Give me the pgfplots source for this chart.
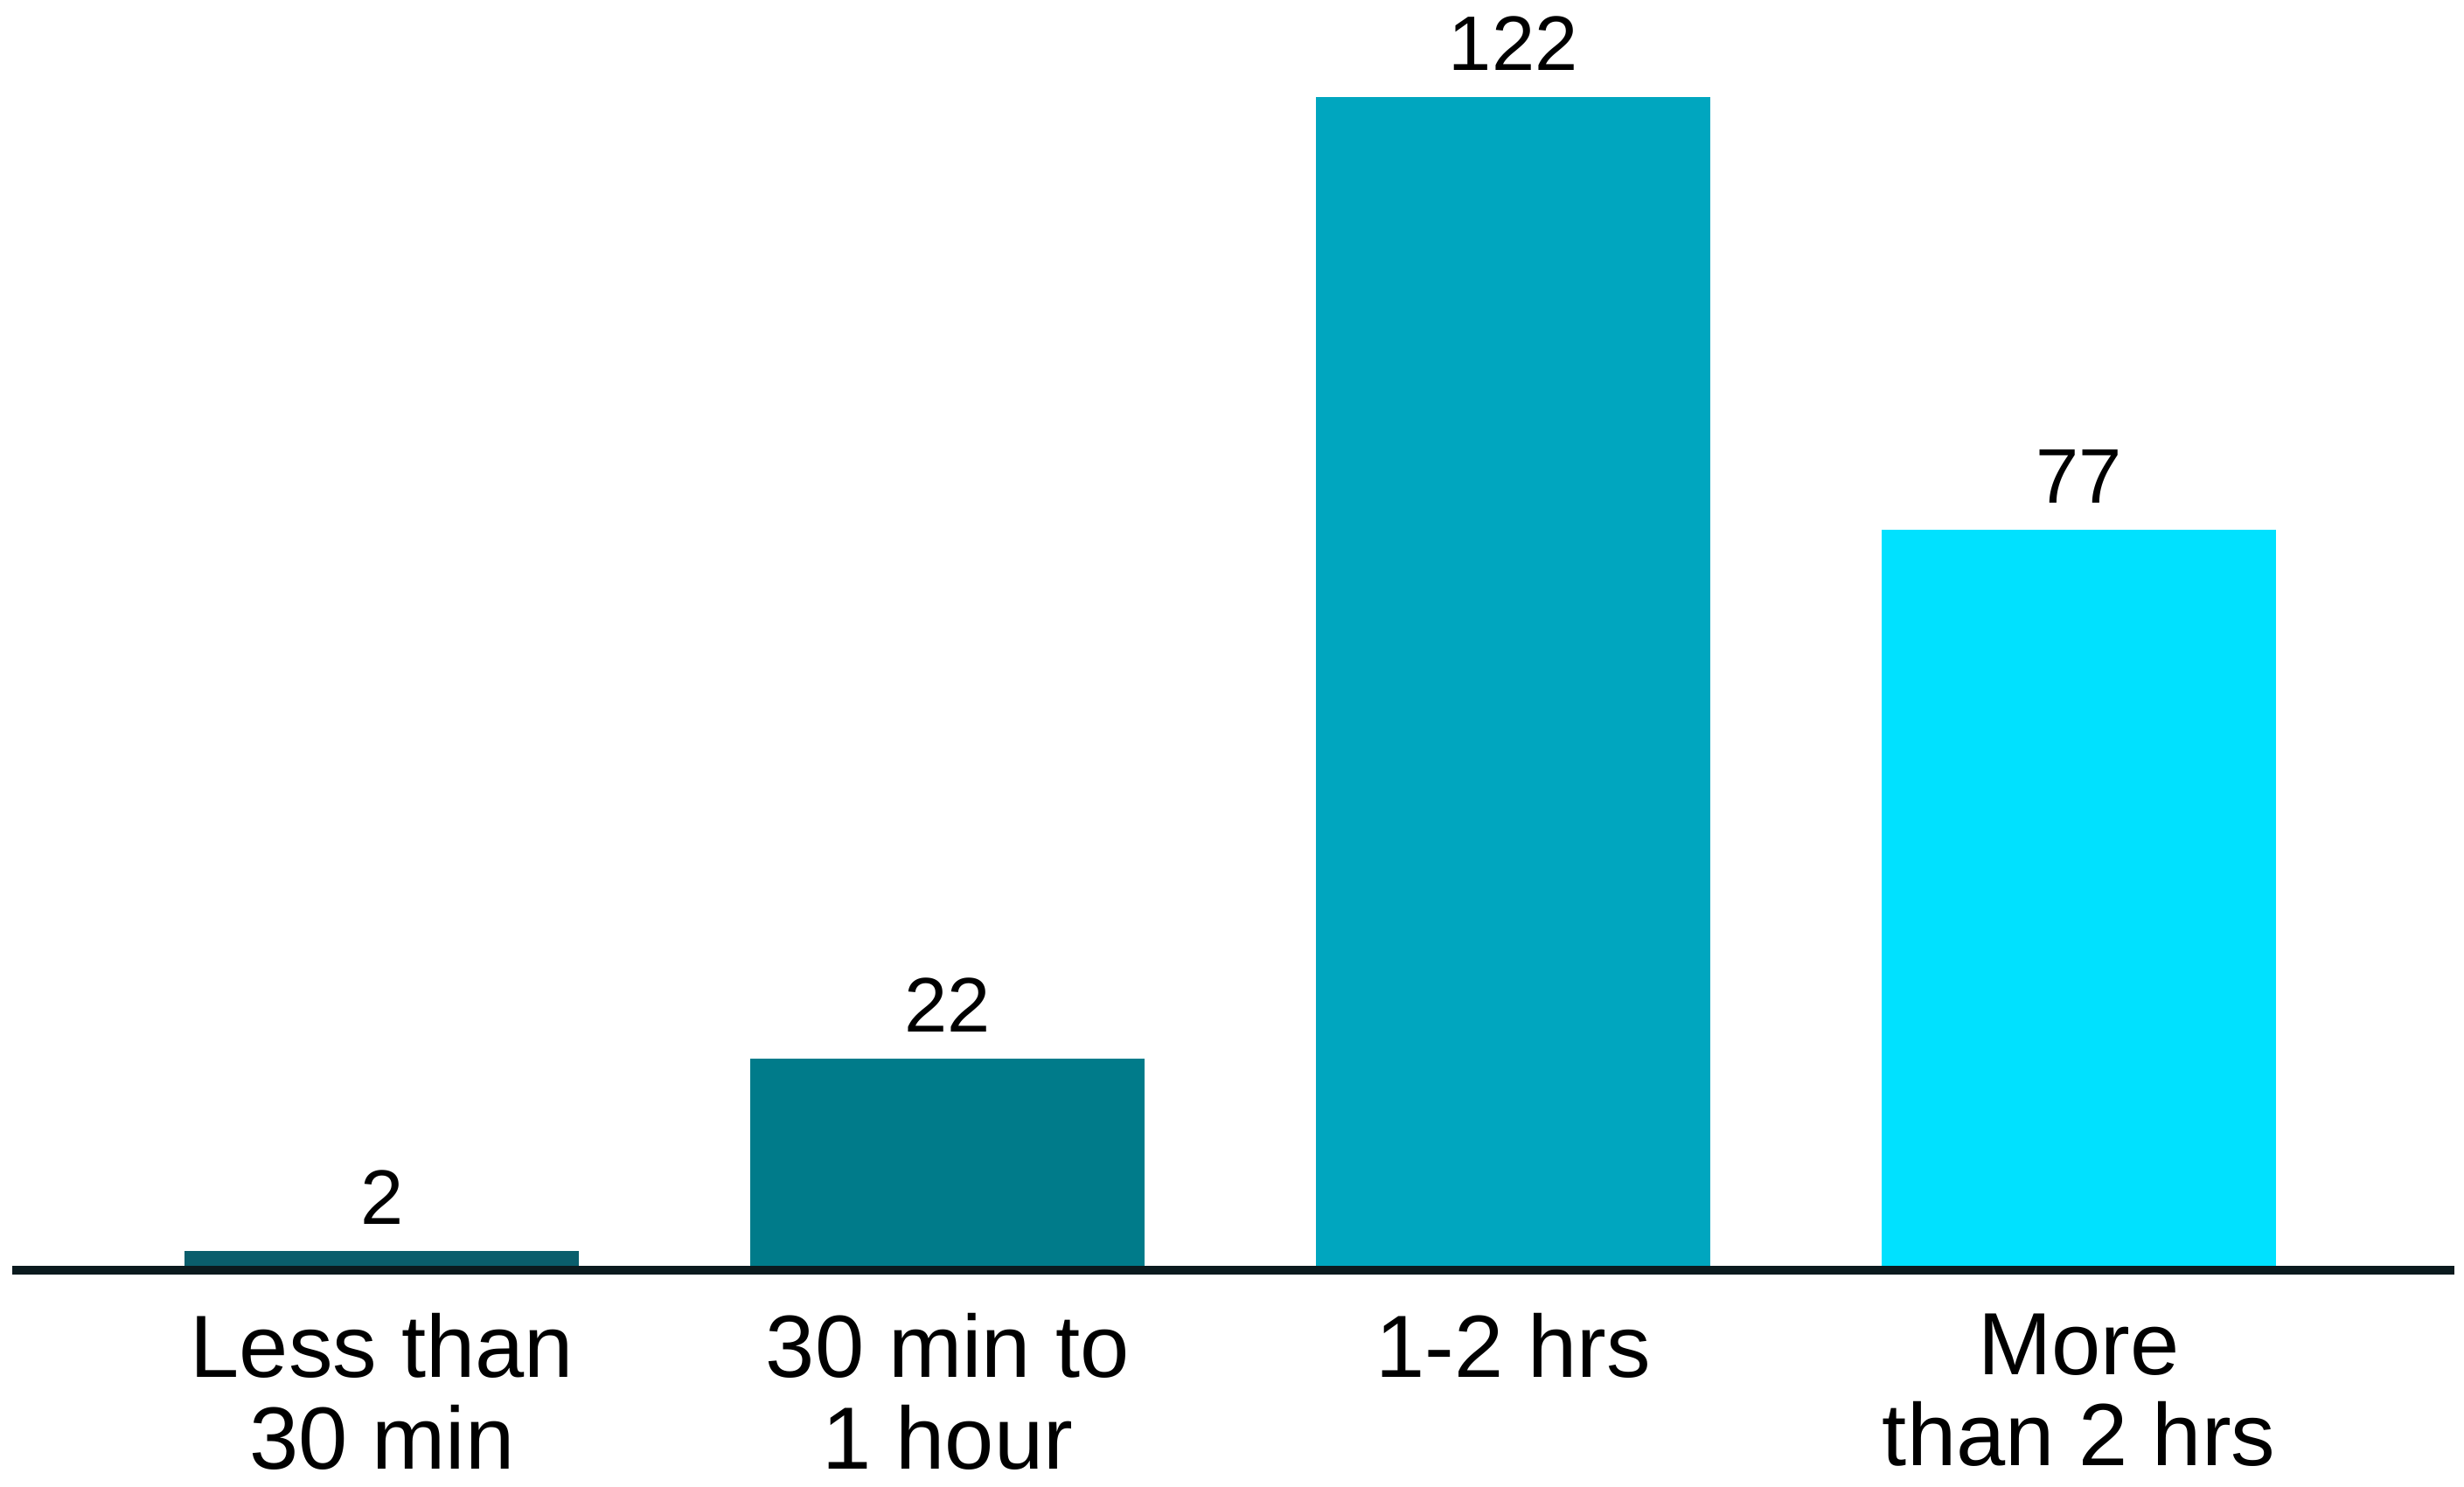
\documentclass[border=0pt]{standalone}
\usepackage{pgfplots}
\pgfplotsset{compat=1.18}
\usepackage{fontspec}
\setmainfont{Liberation Sans}
\definecolor{c1}{HTML}{0A5E6C}
\definecolor{c2}{HTML}{007B8A}
\definecolor{c3}{HTML}{00A6BF}
\definecolor{c4}{HTML}{00E1FF}
\definecolor{axline}{HTML}{0B1A1E}
\begin{document}
\begin{tikzpicture}
\begin{axis}[
  scale only axis,
  width=155.4mm, height=80.8mm,
  xmin=-0.653, xmax=3.664,
  ymin=0, ymax=132,
  axis line style={draw=none},
  ytick=\empty,
  xtick={0,1,2,3},
  xticklabels={Less than\\30 min,30 min to\\1 hour,1-2 hrs,More\\than 2 hrs},
  xticklabel style={align=center, font=\fontsize{16}{16.5}\selectfont, anchor=north, inner sep=0pt, yshift=-2.7mm},
  major tick length=0pt,
  ybar, bar width=0.697, bar shift=0pt,
  clip=false,
  /pgf/number format/assume math mode=true,
  nodes near coords,
  every node near coord/.append style={font=\fontsize{14}{14}\selectfont, anchor=south, inner sep=0pt, yshift=1.6mm, text=black},
]
\addplot[fill=c1, draw=none] coordinates {(0,2)};
\addplot[fill=c2, draw=none] coordinates {(1,22)};
\addplot[fill=c3, draw=none] coordinates {(2,122)};
\addplot[fill=c4, draw=none] coordinates {(3,77)};
\draw[axline, line width=1.6pt] (rel axis cs:0,0) -- (rel axis cs:1,0);
\path (rel axis cs:0,0) ++(-0.8mm,-13.8mm) (rel axis cs:1,1) ++(0.6mm,0mm);
\end{axis}
\end{tikzpicture}
\end{document}
